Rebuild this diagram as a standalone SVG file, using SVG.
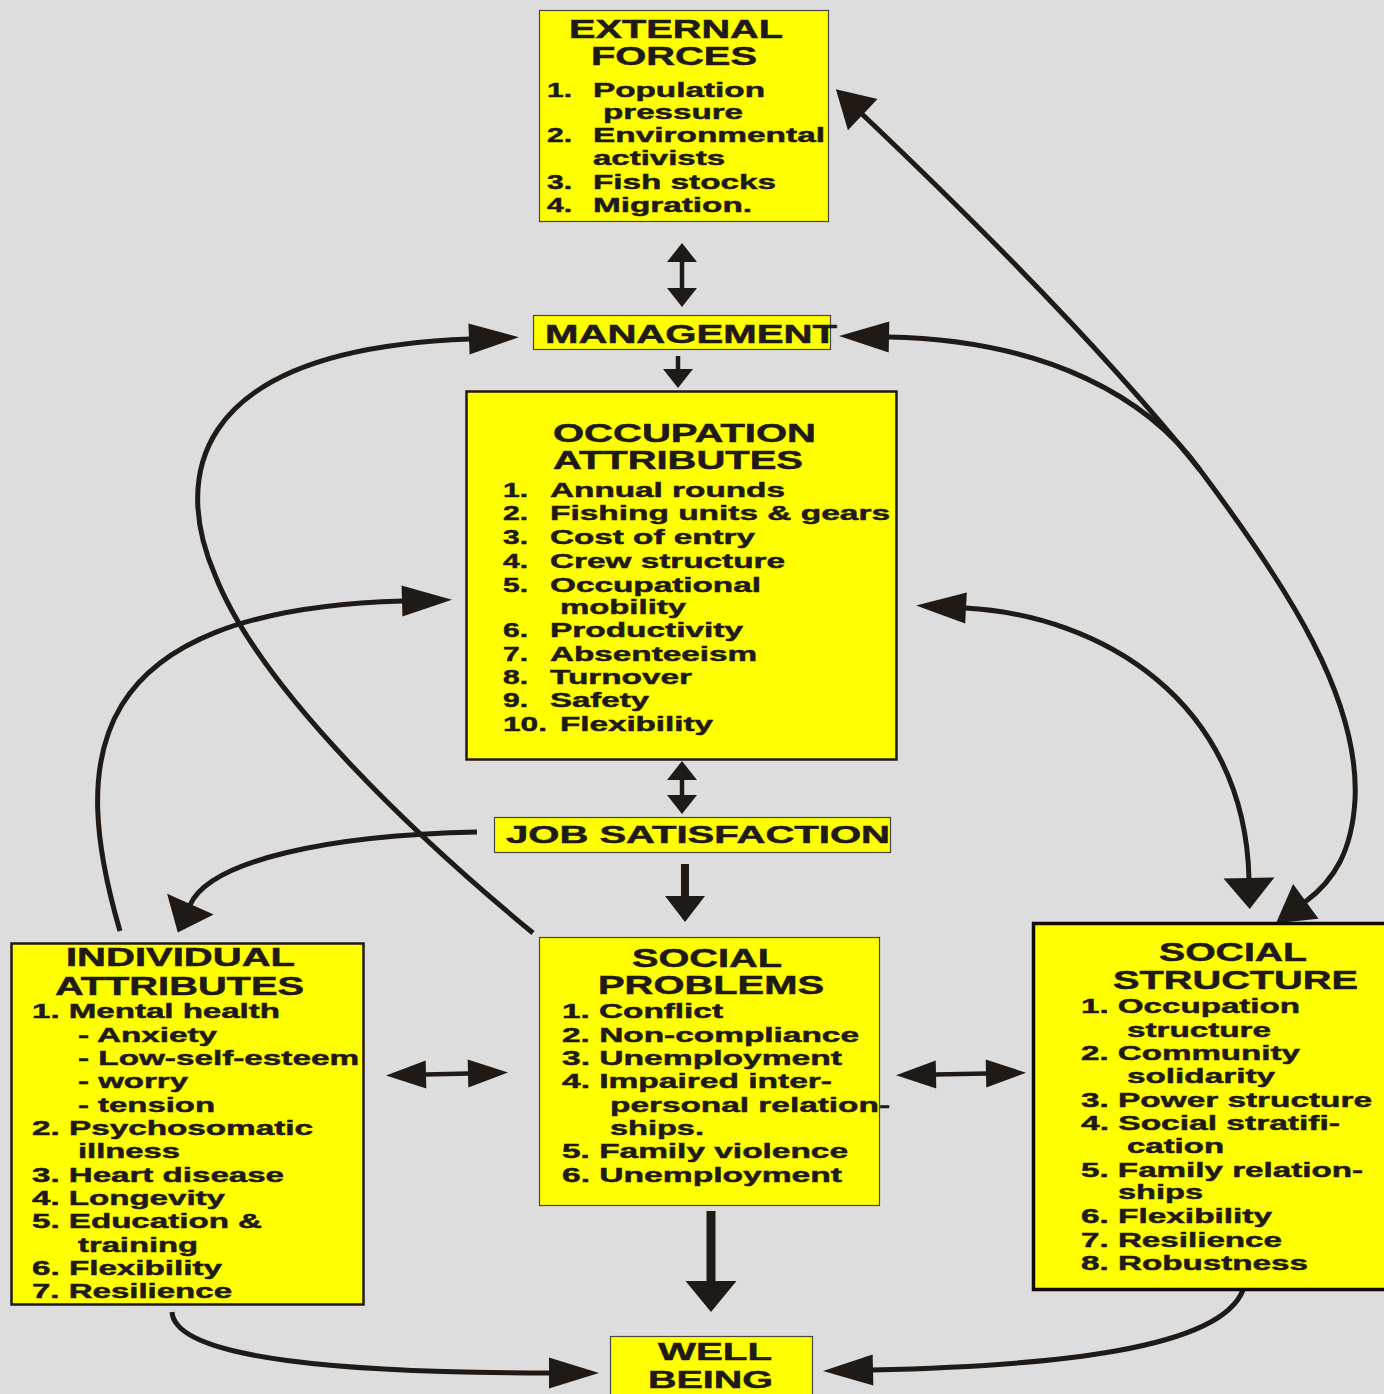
<svg xmlns="http://www.w3.org/2000/svg" width="1384" height="1394" viewBox="0 0 1384 1394">
  <style>
    .bg { fill: #dddddd; }
    .box { fill: #ffff00; stroke: #4a4540; stroke-width: 1.2; }
    .box-heavy { fill: #ffff00; stroke: #201a17; stroke-width: 2.5; }
    .box-black { fill: #ffff00; stroke: #100c0a; stroke-width: 3.5; }
    text { font-family: "Liberation Sans", Arial, sans-serif; font-weight: bold; fill: #201a17; stroke: #201a17; stroke-width: 0.5; }
    .ttl { font-size: 25px; }
    .itm { font-size: 21px; }
    .curve { fill: none; stroke: #201a17; stroke-width: 5; }
    .shaft { fill: none; stroke: #201a17; stroke-width: 4.5; }
    .head { fill: #201a17; }
  </style>
  <defs>
    <marker id="m-long" markerUnits="userSpaceOnUse" markerWidth="50" markerHeight="31" viewBox="0 0 50 31" refX="1" refY="15.5" orient="auto-start-reverse" overflow="visible">
      <path class="head" d="M0,0 L50,15.5 L0,31 z"/>
    </marker>
    <marker id="m-wide" markerUnits="userSpaceOnUse" markerWidth="31" markerHeight="51" viewBox="0 0 31 51" refX="1" refY="25.5" orient="auto-start-reverse" overflow="visible">
      <path class="head" d="M0,0 L31,25.5 L0,51 z"/>
    </marker>
    <marker id="m-mid" markerUnits="userSpaceOnUse" markerWidth="37" markerHeight="43" viewBox="0 0 37 43" refX="1" refY="21.5" orient="auto-start-reverse" overflow="visible">
      <path class="head" d="M0,0 L37,21.5 L0,43 z"/>
    </marker>
    <marker id="m-sm" markerUnits="userSpaceOnUse" markerWidth="19" markerHeight="30" viewBox="0 0 19 30" refX="1" refY="15" orient="auto-start-reverse" overflow="visible">
      <path class="head" d="M0,0 L19,15 L0,30 z"/>
    </marker>
    <marker id="m-js" markerUnits="userSpaceOnUse" markerWidth="26" markerHeight="40" viewBox="0 0 26 40" refX="1" refY="20" orient="auto-start-reverse" overflow="visible">
      <path class="head" d="M0,0 L26,20 L0,40 z"/>
    </marker>
    <marker id="m-h" markerUnits="userSpaceOnUse" markerWidth="40" markerHeight="28" viewBox="0 0 40 28" refX="1" refY="14" orient="auto-start-reverse" overflow="visible">
      <path class="head" d="M0,0 L40,14 L0,28 z"/>
    </marker>
  </defs>

  <rect class="bg" x="0" y="0" width="1384" height="1394"/>

  <!-- connectors -->
  <g id="connectors">
    <!-- social problems curving up to management -->
    <path class="curve" d="M533,933 C420,840 260,690 215,575 C178,490 175,350 470,339" marker-end="url(#m-long)"/>
    <!-- individual attributes up to occupation attributes -->
    <path class="curve" d="M120,931 C70,760 80,610 403,601" marker-end="url(#m-long)"/>
    <!-- job satisfaction to individual attributes -->
    <path class="curve" d="M477,832 C330,835 210,860 190,905" marker-end="url(#m-wide)"/>
    <!-- external forces diagonal -->
    <path class="curve" d="M862,114 C1000,245 1120,370 1200,470" marker-start="url(#m-mid)"/>
    <!-- management to social structure -->
    <path class="curve" d="M888,337 C1050,340 1150,400 1200,470 C1290,590 1360,700 1355,800 C1352,850 1335,880 1305,902" marker-start="url(#m-long)" marker-end="url(#m-mid)"/>
    <!-- occupation attributes to social structure -->
    <path class="curve" d="M965,608 C1100,615 1245,700 1249,879" marker-start="url(#m-long)" marker-end="url(#m-wide)"/>
    <!-- individual attributes to well being -->
    <path class="curve" d="M172,1312 C175,1360 350,1373 550,1373" marker-end="url(#m-long)"/>
    <!-- social structure to well being -->
    <path class="curve" d="M1243,1290 C1220,1350 1050,1366 872,1370" marker-end="url(#m-long)"/>

    <!-- straight arrows -->
    <path class="shaft" d="M682,261 L682,289" marker-start="url(#m-sm)" marker-end="url(#m-sm)"/>
    <path class="shaft" d="M678,356 L678,370" stroke-width="5" marker-end="url(#m-sm)"/>
    <path class="shaft" d="M682,779 L682,796" marker-start="url(#m-sm)" marker-end="url(#m-sm)"/>
    <path class="shaft" d="M685,864 L685,897" style="stroke-width:8" marker-end="url(#m-js)"/>
    <path class="shaft" d="M711,1211 L711,1282" style="stroke-width:9" marker-end="url(#m-wide)"/>
    <path class="shaft" d="M425,1074.5 L469,1073.5" marker-start="url(#m-h)" marker-end="url(#m-h)"/>
    <path class="shaft" d="M935,1074.5 L987,1073.5" marker-start="url(#m-h)" marker-end="url(#m-h)"/>
  </g>

  <!-- external forces -->
  <g id="external-forces">
    <rect class="box" x="539.5" y="10.5" width="289" height="211"/>
    <text class="ttl" x="569" y="38" textLength="214" lengthAdjust="spacingAndGlyphs">EXTERNAL</text>
    <text class="ttl" x="591" y="65" textLength="166" lengthAdjust="spacingAndGlyphs">FORCES</text>
    <text class="itm" x="547" y="97" textLength="25" lengthAdjust="spacingAndGlyphs">1.</text>
    <text class="itm" x="593" y="97" textLength="172" lengthAdjust="spacingAndGlyphs">Population</text>
    <text class="itm" x="603" y="119" textLength="140" lengthAdjust="spacingAndGlyphs">pressure</text>
    <text class="itm" x="547" y="142" textLength="25" lengthAdjust="spacingAndGlyphs">2.</text>
    <text class="itm" x="593" y="142" textLength="232" lengthAdjust="spacingAndGlyphs">Environmental</text>
    <text class="itm" x="593" y="165" textLength="132" lengthAdjust="spacingAndGlyphs">activists</text>
    <text class="itm" x="547" y="189" textLength="25" lengthAdjust="spacingAndGlyphs">3.</text>
    <text class="itm" x="593" y="189" textLength="183" lengthAdjust="spacingAndGlyphs">Fish stocks</text>
    <text class="itm" x="547" y="212" textLength="25" lengthAdjust="spacingAndGlyphs">4.</text>
    <text class="itm" x="593" y="212" textLength="159" lengthAdjust="spacingAndGlyphs">Migration.</text>
  </g>

  <!-- management -->
  <g id="management">
    <rect class="box" x="533.5" y="315.5" width="297" height="34"/>
    <text x="545" y="343" font-size="26" textLength="292" lengthAdjust="spacingAndGlyphs">MANAGEMENT</text>
  </g>

  <!-- occupation attributes -->
  <g id="occupation-attributes">
    <rect class="box-heavy" x="466.5" y="391.5" width="430" height="368"/>
    <text class="ttl" x="553" y="442" textLength="263" lengthAdjust="spacingAndGlyphs">OCCUPATION</text>
    <text class="ttl" x="553" y="469" textLength="250" lengthAdjust="spacingAndGlyphs">ATTRIBUTES</text>
    <text class="itm" x="503" y="497" textLength="25" lengthAdjust="spacingAndGlyphs">1.</text>
    <text class="itm" x="550" y="497" textLength="235" lengthAdjust="spacingAndGlyphs">Annual rounds</text>
    <text class="itm" x="503" y="520" textLength="25" lengthAdjust="spacingAndGlyphs">2.</text>
    <text class="itm" x="550" y="520" textLength="340" lengthAdjust="spacingAndGlyphs">Fishing units &amp; gears</text>
    <text class="itm" x="503" y="544" textLength="25" lengthAdjust="spacingAndGlyphs">3.</text>
    <text class="itm" x="550" y="544" textLength="205" lengthAdjust="spacingAndGlyphs">Cost of entry</text>
    <text class="itm" x="503" y="568" textLength="25" lengthAdjust="spacingAndGlyphs">4.</text>
    <text class="itm" x="550" y="568" textLength="235" lengthAdjust="spacingAndGlyphs">Crew structure</text>
    <text class="itm" x="503" y="592" textLength="25" lengthAdjust="spacingAndGlyphs">5.</text>
    <text class="itm" x="550" y="592" textLength="211" lengthAdjust="spacingAndGlyphs">Occupational</text>
    <text class="itm" x="560" y="614" textLength="126" lengthAdjust="spacingAndGlyphs">mobility</text>
    <text class="itm" x="503" y="637" textLength="25" lengthAdjust="spacingAndGlyphs">6.</text>
    <text class="itm" x="550" y="637" textLength="193" lengthAdjust="spacingAndGlyphs">Productivity</text>
    <text class="itm" x="503" y="661" textLength="25" lengthAdjust="spacingAndGlyphs">7.</text>
    <text class="itm" x="550" y="661" textLength="207" lengthAdjust="spacingAndGlyphs">Absenteeism</text>
    <text class="itm" x="503" y="684" textLength="25" lengthAdjust="spacingAndGlyphs">8.</text>
    <text class="itm" x="550" y="684" textLength="142" lengthAdjust="spacingAndGlyphs">Turnover</text>
    <text class="itm" x="503" y="707" textLength="25" lengthAdjust="spacingAndGlyphs">9.</text>
    <text class="itm" x="550" y="707" textLength="99" lengthAdjust="spacingAndGlyphs">Safety</text>
    <text class="itm" x="503" y="731" textLength="44" lengthAdjust="spacingAndGlyphs">10.</text>
    <text class="itm" x="560" y="731" textLength="153" lengthAdjust="spacingAndGlyphs">Flexibility</text>
  </g>

  <!-- job satisfaction -->
  <g id="job-satisfaction">
    <rect class="box" x="494.5" y="817.5" width="396" height="35"/>
    <text x="506" y="843" font-size="24" textLength="384" lengthAdjust="spacingAndGlyphs">JOB SATISFACTION</text>
  </g>

  <!-- social problems -->
  <g id="social-problems">
    <rect class="box" x="539.5" y="937.5" width="340" height="268"/>
    <text class="ttl" x="632" y="967" textLength="150" lengthAdjust="spacingAndGlyphs">SOCIAL</text>
    <text class="ttl" x="598" y="994" textLength="226" lengthAdjust="spacingAndGlyphs">PROBLEMS</text>
    <text class="itm" x="562" y="1018" textLength="161" lengthAdjust="spacingAndGlyphs">1. Conflict</text>
    <text class="itm" x="562" y="1042" textLength="297" lengthAdjust="spacingAndGlyphs">2. Non-compliance</text>
    <text class="itm" x="562" y="1065" textLength="280" lengthAdjust="spacingAndGlyphs">3. Unemployment</text>
    <text class="itm" x="562" y="1088" textLength="270" lengthAdjust="spacingAndGlyphs">4. Impaired inter-</text>
    <text class="itm" x="610" y="1112" textLength="280" lengthAdjust="spacingAndGlyphs">personal relation-</text>
    <text class="itm" x="610" y="1135" textLength="94" lengthAdjust="spacingAndGlyphs">ships.</text>
    <text class="itm" x="562" y="1158" textLength="286" lengthAdjust="spacingAndGlyphs">5. Family violence</text>
    <text class="itm" x="562" y="1182" textLength="280" lengthAdjust="spacingAndGlyphs">6. Unemployment</text>
  </g>

  <!-- individual attributes -->
  <g id="individual-attributes">
    <rect class="box-heavy" x="11.5" y="943.5" width="352" height="361"/>
    <text class="ttl" x="66" y="966" textLength="229" lengthAdjust="spacingAndGlyphs">INDIVIDUAL</text>
    <text class="ttl" x="55" y="995" textLength="249" lengthAdjust="spacingAndGlyphs">ATTRIBUTES</text>
    <text class="itm" x="32" y="1018" textLength="248" lengthAdjust="spacingAndGlyphs">1. Mental health</text>
    <text class="itm" x="78" y="1042" textLength="139" lengthAdjust="spacingAndGlyphs">- Anxiety</text>
    <text class="itm" x="78" y="1065" textLength="281" lengthAdjust="spacingAndGlyphs">- Low-self-esteem</text>
    <text class="itm" x="78" y="1088" textLength="110" lengthAdjust="spacingAndGlyphs">- worry</text>
    <text class="itm" x="78" y="1112" textLength="137" lengthAdjust="spacingAndGlyphs">- tension</text>
    <text class="itm" x="32" y="1135" textLength="281" lengthAdjust="spacingAndGlyphs">2. Psychosomatic</text>
    <text class="itm" x="78" y="1158" textLength="102" lengthAdjust="spacingAndGlyphs">illness</text>
    <text class="itm" x="32" y="1182" textLength="252" lengthAdjust="spacingAndGlyphs">3. Heart disease</text>
    <text class="itm" x="32" y="1205" textLength="193" lengthAdjust="spacingAndGlyphs">4. Longevity</text>
    <text class="itm" x="32" y="1228" textLength="230" lengthAdjust="spacingAndGlyphs">5. Education &amp;</text>
    <text class="itm" x="78" y="1252" textLength="120" lengthAdjust="spacingAndGlyphs">training</text>
    <text class="itm" x="32" y="1275" textLength="190" lengthAdjust="spacingAndGlyphs">6. Flexibility</text>
    <text class="itm" x="32" y="1298" textLength="200" lengthAdjust="spacingAndGlyphs">7. Resilience</text>
  </g>

  <!-- social structure -->
  <g id="social-structure">
    <rect class="box-black" x="1033.5" y="923.5" width="360" height="366"/>
    <text class="ttl" x="1159" y="961" textLength="148" lengthAdjust="spacingAndGlyphs">SOCIAL</text>
    <text class="ttl" x="1113" y="989" textLength="245" lengthAdjust="spacingAndGlyphs">STRUCTURE</text>
    <text class="itm" x="1081" y="1013" textLength="219" lengthAdjust="spacingAndGlyphs">1. Occupation</text>
    <text class="itm" x="1127" y="1037" textLength="144" lengthAdjust="spacingAndGlyphs">structure</text>
    <text class="itm" x="1081" y="1060" textLength="219" lengthAdjust="spacingAndGlyphs">2. Community</text>
    <text class="itm" x="1127" y="1083" textLength="148" lengthAdjust="spacingAndGlyphs">solidarity</text>
    <text class="itm" x="1081" y="1107" textLength="291" lengthAdjust="spacingAndGlyphs">3. Power structure</text>
    <text class="itm" x="1081" y="1130" textLength="259" lengthAdjust="spacingAndGlyphs">4. Social stratifi-</text>
    <text class="itm" x="1127" y="1153" textLength="97" lengthAdjust="spacingAndGlyphs">cation</text>
    <text class="itm" x="1081" y="1177" textLength="282" lengthAdjust="spacingAndGlyphs">5. Family relation-</text>
    <text class="itm" x="1118" y="1199" textLength="85" lengthAdjust="spacingAndGlyphs">ships</text>
    <text class="itm" x="1081" y="1223" textLength="191" lengthAdjust="spacingAndGlyphs">6. Flexibility</text>
    <text class="itm" x="1081" y="1247" textLength="201" lengthAdjust="spacingAndGlyphs">7. Resilience</text>
    <text class="itm" x="1081" y="1270" textLength="227" lengthAdjust="spacingAndGlyphs">8. Robustness</text>
  </g>

  <!-- well being -->
  <g id="well-being">
    <rect class="box" x="610.5" y="1336.5" width="202" height="70"/>
    <text x="658" y="1360" font-size="24" textLength="114" lengthAdjust="spacingAndGlyphs">WELL</text>
    <text x="648" y="1388" font-size="24" textLength="125" lengthAdjust="spacingAndGlyphs">BEING</text>
  </g>
</svg>
